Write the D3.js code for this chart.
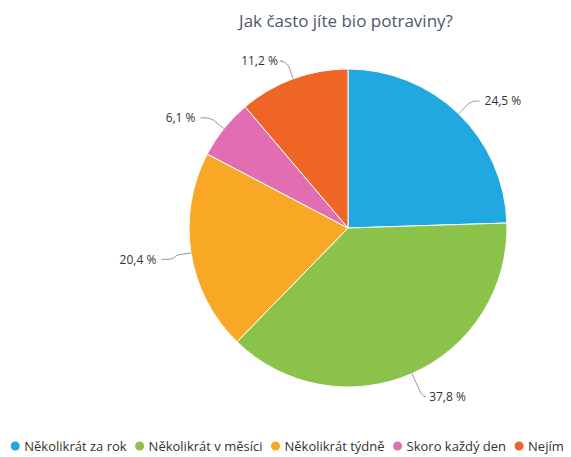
<!DOCTYPE html>
<html><head><meta charset="utf-8">
<script src="https://cdn.jsdelivr.net/npm/d3@7"></script>
<style>body{margin:0;background:#fff}svg{display:block;font-family:"Open Sans",sans-serif}</style>
</head><body>
<script>
const title = "Jak často jíte bio potraviny?";
const categories = ["Několikrát za rok","Několikrát v měsíci","Několikrát týdně","Skoro každý den","Nejím"];
const values = [24.5, 37.8, 20.4, 6.1, 11.2];
const labels = ["24,5 %","37,8 %","20,4 %","6,1 %","11,2 %"];
const colors = ["#21a8e0","#8bc34a","#f9a825","#e36db2","#ef6526"];

const W = 571, H = 457, cx = 348, cy = 228, r = 159;
const svg = d3.select("body").append("svg").attr("width", W).attr("height", H);

svg.append("text").attr("x", 346).attr("y", 27).attr("text-anchor","middle")
  .attr("font-size", 17).attr("fill","#4b5868").text(title);

const pie = d3.pie().sort(null).value(d => d)(values);
const arc = d3.arc().innerRadius(0).outerRadius(r);
const g = svg.append("g").attr("transform", `translate(${cx},${cy})`);
g.selectAll("path.slice").data(pie).join("path").attr("class","slice")
  .attr("d", arc).attr("fill", (d,i)=>colors[i]).attr("stroke","#fff").attr("stroke-width",1);

pie.forEach((d,i) => {
  const a = (d.startAngle + d.endAngle)/2;
  const s = Math.sin(a), c = -Math.cos(a);
  const right = s >= 0;
  const E = [s*r, c*r];
  const B = [s*(r+14), c*(r+14)];
  const ly = c*(r+22) + 3;
  const lx = s*(r+30);
  const tx = lx + (right ? 5 : -5);
  const path = d3.path();
  path.moveTo(E[0], E[1]);
  path.lineTo(B[0], B[1]);
  path.quadraticCurveTo(B[0] + (right?4:-4), ly, B[0] + (right?8:-8), ly);
  path.lineTo(lx, ly);
  g.append("path").attr("d", path.toString()).attr("fill","none")
    .attr("stroke","#999").attr("stroke-width",1);
  g.append("text").attr("x", tx).attr("y", ly).attr("dy","0.35em")
    .attr("text-anchor", right ? "start" : "end").attr("font-size", 12)
    .attr("fill","#333").text(labels[i]);
});

// legend
const lg = svg.append("g");
const fs = 13;
let x = 0;
const items = [];
categories.forEach((cat,i) => {
  const it = lg.append("g");
  it.append("circle").attr("cx", 0).attr("cy", 0).attr("r", 4.5).attr("fill", colors[i]);
  const t = it.append("text").attr("x", 9).attr("y", 0).attr("dy","0.35em")
    .attr("font-size", fs).attr("fill","#333").text(cat);
  const w = t.node().getComputedTextLength() + 9;
  items.push({it, x});
  x += w + 13;
});
const total = x - 13;
const x0 = (W - total)/2 + 4;
items.forEach(o => o.it.attr("transform", `translate(${x0 + o.x},446)`));
</script>
</body></html>
